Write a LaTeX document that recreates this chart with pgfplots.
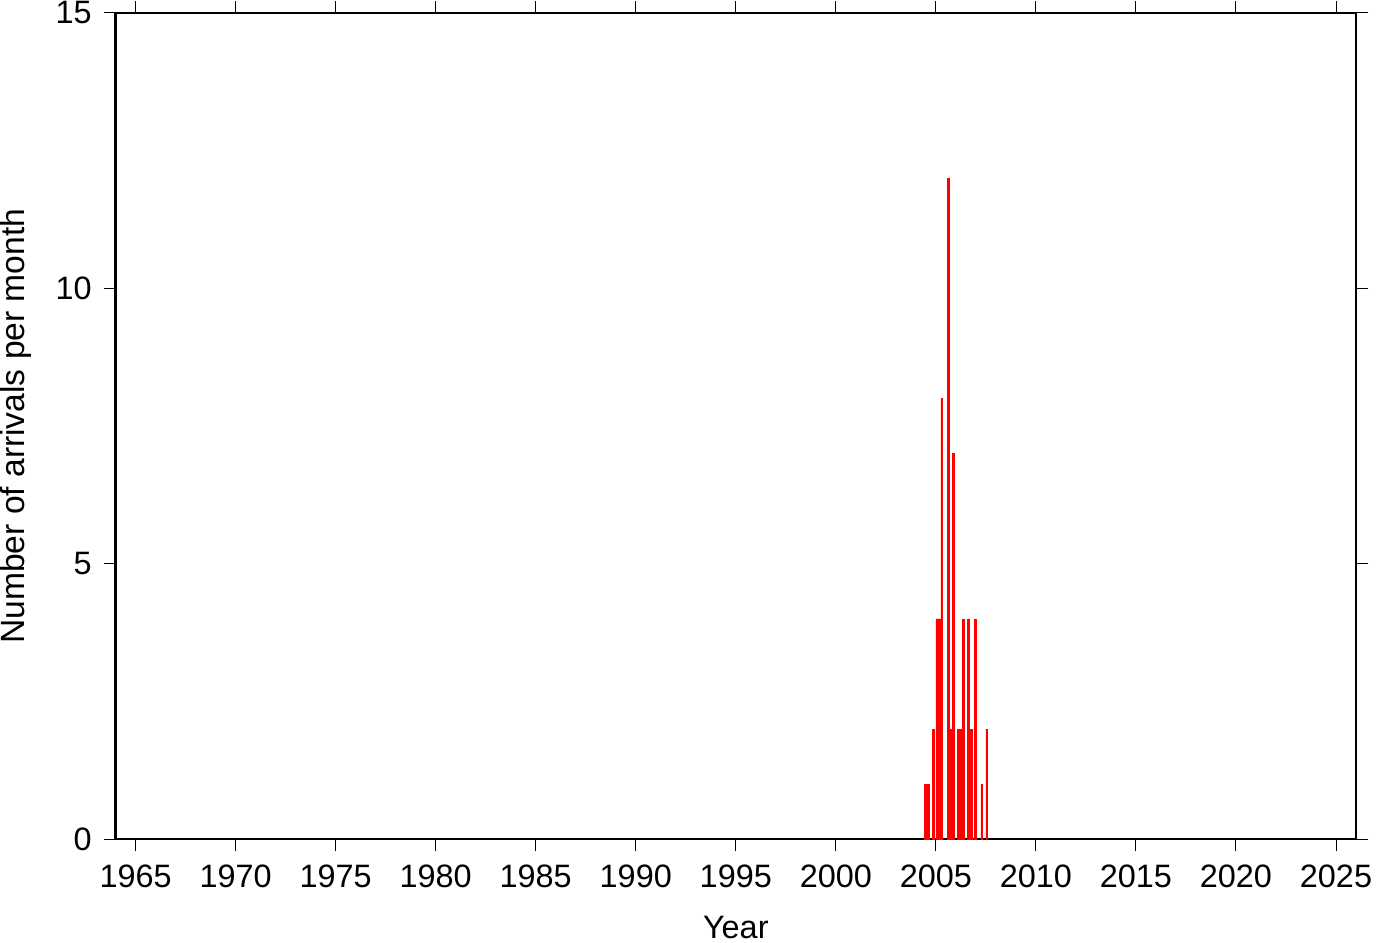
\documentclass[border=0pt]{standalone}
\usepackage{pgfplots}
\pgfplotsset{compat=1.18}
\usepackage{fontspec}
\setmainfont{Liberation Sans}
\begin{document}
\begin{tikzpicture}
\begin{axis}[
  scale only axis, width=620pt, height=413pt,
  xmin=1964, xmax=2026, ymin=0, ymax=15,
  xtick={1965,1970,...,2025}, ytick={0,5,10,15},
  tick align=outside, major tick length=6pt,
  tick style={line width=0.5pt, black},
  axis line style={line width=1.2pt},
  /pgf/number format/assume math mode=true,
  /pgf/number format/set thousands separator={},
  every tick label/.append style={font=\fontsize{16.2}{19}\selectfont, inner sep=0pt},
  xticklabel style={yshift=-6.7pt},
  yticklabel style={xshift=-5.8pt},
  xlabel={Year}, ylabel={Number of arrivals per month},
  xlabel style={font=\fontsize{16.2}{19}\selectfont, inner sep=0pt, at={(axis description cs:0.5,-0.1199)}, anchor=base},
  ylabel style={font=\fontsize{16.8}{20}\selectfont, inner sep=0pt, at={(axis description cs:-0.0935,0.5)}, anchor=north},
]
\addplot[ybar, bar width=0.0833, bar shift=0pt, fill=red, draw=red, line width=0.2pt] coordinates {
(2004.458,1) (2004.625,1) (2004.875,2)
(2005.042,4) (2005.125,4) (2005.208,4) (2005.292,8)
(2005.625,12) (2005.708,2) (2005.792,2) (2005.875,7)
(2006.125,2) (2006.208,2) (2006.292,2) (2006.375,4)
(2006.625,4) (2006.708,2) (2006.792,2) (2006.958,4)
(2007.292,1) (2007.542,2)
};
\end{axis}
\path ([xshift=13pt,yshift=6.5pt]current axis.north east);
\path ([yshift=-51.5pt]current axis.south west);
\end{tikzpicture}
\end{document}
